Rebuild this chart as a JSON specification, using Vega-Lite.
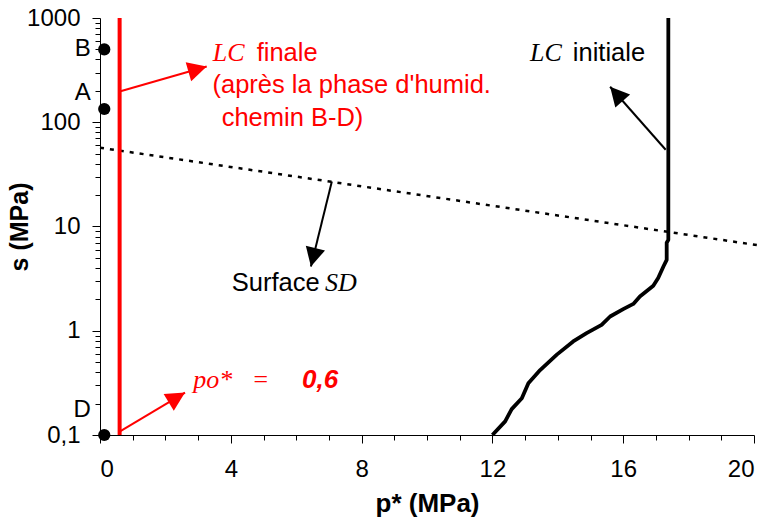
{
  "$schema": "https://vega.github.io/schema/vega-lite/v6.json",
  "width": 654,
  "height": 417,
  "autosize": {"type": "none"},
  "padding": {"left": 100, "top": 18, "right": 15, "bottom": 86},
  "background": "white",
  "config": {
    "view": {"stroke": null},
    "axis": {
      "domainColor": "#000", "tickColor": "#000", "labelColor": "#000", "titleColor": "#000",
      "labelFont": "Liberation Sans", "titleFont": "Liberation Sans", "grid": false,
      "domainWidth": 1, "tickWidth": 1
    }
  },
  "datasets": {
    "sd": [{"x": 0, "y": 57}, {"x": 7.09, "y": 26.8}, {"x": 20.23, "y": 6.53}],
    "lcf": [{"x": 0.6, "y": 0.1}, {"x": 0.6, "y": 1000}],
    "lci": [
      {"k": 0, "x": 17.38, "y": 1000}, {"k": 1, "x": 17.38, "y": 7.45}, {"k": 2, "x": 17.33, "y": 6.98},
      {"k": 3, "x": 17.33, "y": 4.79}, {"k": 4, "x": 17.23, "y": 4.13}, {"k": 5, "x": 17.07, "y": 3.2},
      {"k": 6, "x": 16.92, "y": 2.7}, {"k": 7, "x": 16.51, "y": 2.13}, {"k": 8, "x": 16.31, "y": 1.81},
      {"k": 9, "x": 16.0, "y": 1.61}, {"k": 10, "x": 15.6, "y": 1.37}, {"k": 11, "x": 15.34, "y": 1.14},
      {"k": 12, "x": 14.88, "y": 0.95}, {"k": 13, "x": 14.47, "y": 0.79}, {"k": 14, "x": 13.97, "y": 0.59},
      {"k": 15, "x": 13.46, "y": 0.42}, {"k": 16, "x": 13.1, "y": 0.314}, {"k": 17, "x": 12.9, "y": 0.225},
      {"k": 18, "x": 12.59, "y": 0.177}, {"k": 19, "x": 12.39, "y": 0.135}, {"k": 20, "x": 12.0, "y": 0.1}
    ],
    "pts": [{"n": "B", "x": 0.13, "y": 500}, {"n": "A", "x": 0.13, "y": 134}, {"n": "D", "x": 0.13, "y": 0.1}],
    "ptlab": [{"t": "B", "x": -0.28, "y": 428}, {"t": "A", "x": -0.28, "y": 162}, {"t": "D", "x": -0.28, "y": 0.15}],
    "arrows": [
      {"c": "red", "x": 0.6, "y": 197.6, "x2": 3.263, "y2": 343.2, "ang": 73.9},
      {"c": "red", "x": 0.6, "y": 0.108, "x2": 2.6, "y2": 0.255, "ang": 59.1},
      {"c": "black", "x": 7.09, "y": 27.0, "x2": 6.45, "y2": 4.13, "ang": 193.7},
      {"c": "black", "x": 17.3, "y": 54.5, "x2": 15.6, "y2": 219, "ang": -41.6}
    ],
    "sans": [
      {"c": "red", "t": "finale", "x": 4.79, "y": 389},
      {"c": "red", "t": "(après la phase d'humid.", "x": 3.44, "y": 189.9},
      {"c": "red", "t": "chemin B-D)", "x": 3.72, "y": 92.6},
      {"c": "black", "t": "initiale", "x": 14.46, "y": 389},
      {"c": "black", "t": "Surface", "x": 4.03, "y": 2.43}
    ],
    "serif": [
      {"c": "red", "t": "LC", "x": 3.45, "y": 389},
      {"c": "black", "t": "LC", "x": 13.15, "y": 389},
      {"c": "black", "t": "SD", "x": 6.88, "y": 2.43},
      {"c": "red", "t": "po*\u00a0\u00a0\u00a0=", "x": 2.85, "y": 0.283}
    ],
    "boldit": [{"c": "red", "t": "0,6", "x": 6.18, "y": 0.283}]
  },
  "encoding": {
    "x": {
      "field": "x", "type": "quantitative",
      "scale": {"domain": [0, 20], "nice": false, "zero": false},
      "axis": {
        "values": [0,1,2,3,4,5,6,7,8,9,10,11,12,13,14,15,16,17,18,19,20],
        "labelExpr": "datum.value % 4 == 0 ? format(datum.value, 'd') : ''",
        "tickSize": {"condition": {"test": "datum.value % 4 == 0", "value": 8}, "value": 5},
        "labelFontSize": 24, "labelPadding": 14, "labelOverlap": false,
        "title": "p* (MPa)", "titleFontSize": 26, "titleFontWeight": "bold", "titlePadding": 9
      }
    },
    "y": {
      "field": "y", "type": "quantitative",
      "scale": {"type": "log", "domain": [0.1, 1000], "nice": false},
      "axis": {
        "values": [0.1,0.2,0.3,0.4,0.5,0.6,0.7,0.8,0.9,1,2,3,4,5,6,7,8,9,10,20,30,40,50,60,70,80,90,100,200,300,400,500,600,700,800,900,1000],
        "labelExpr": "abs(log(datum.value)/LN10 - round(log(datum.value)/LN10)) < 1e-6 ? replace(format(datum.value, '~g'), '.', ',') : ''",
        "tickSize": {"condition": {"test": "abs(log(datum.value)/LN10 - round(log(datum.value)/LN10)) < 1e-6", "value": 8}, "value": 5},
        "labelFontSize": 24, "labelPadding": 12, "labelOverlap": false,
        "title": "s (MPa)", "titleFontSize": 25, "titleFontWeight": "bold", "titlePadding": -6
      }
    }
  },
  "layer": [
    {
      "data": {"name": "sd"},
      "mark": {"type": "line", "color": "#000", "strokeWidth": 2.5, "strokeDash": [4, 6], "clip": false}
    },
    {
      "data": {"name": "lcf"},
      "mark": {"type": "line", "color": "#ff0000", "strokeWidth": 4}
    },
    {
      "data": {"name": "lci"},
      "mark": {"type": "line", "color": "#000", "strokeWidth": 3.8, "strokeJoin": "round"},
      "encoding": {"order": {"field": "k", "type": "quantitative"}}
    },
    {
      "data": {"name": "pts"},
      "mark": {"type": "point", "shape": "circle", "filled": true, "color": "#000", "size": 150, "opacity": 1}
    },
    {
      "data": {"name": "ptlab"},
      "mark": {"type": "text", "font": "Liberation Sans", "fontSize": 24, "align": "right", "baseline": "alphabetic", "color": "#000"},
      "encoding": {"text": {"field": "t"}}
    },
    {
      "data": {"name": "arrows"},
      "mark": {"type": "rule", "strokeWidth": 2},
      "encoding": {
        "x2": {"field": "x2"}, "y2": {"field": "y2"},
        "color": {"field": "c", "type": "nominal", "scale": {"domain": ["red", "black"], "range": ["#ff0000", "#000000"]}, "legend": null}
      }
    },
    {
      "data": {"name": "arrows"},
      "mark": {"type": "point", "shape": "M0,0L-0.52,1L0.52,1Z", "filled": true, "size": 1444, "opacity": 1, "strokeWidth": 0},
      "encoding": {
        "x": {"field": "x2", "type": "quantitative"},
        "y": {"field": "y2", "type": "quantitative"},
        "angle": {"field": "ang", "type": "quantitative", "scale": null},
        "color": {"field": "c", "type": "nominal", "legend": null}
      }
    },
    {
      "data": {"name": "sans"},
      "mark": {"type": "text", "font": "Liberation Sans", "fontSize": 25.5, "align": "left", "baseline": "alphabetic"},
      "encoding": {"text": {"field": "t"}, "color": {"field": "c", "type": "nominal", "legend": null}}
    },
    {
      "data": {"name": "serif"},
      "mark": {"type": "text", "font": "Liberation Serif", "fontStyle": "italic", "fontSize": 26, "align": "left", "baseline": "alphabetic"},
      "encoding": {"text": {"field": "t"}, "color": {"field": "c", "type": "nominal", "legend": null}}
    },
    {
      "data": {"name": "boldit"},
      "mark": {"type": "text", "font": "Liberation Sans", "fontStyle": "italic", "fontWeight": "bold", "fontSize": 26, "align": "left", "baseline": "alphabetic"},
      "encoding": {"text": {"field": "t"}, "color": {"field": "c", "type": "nominal", "legend": null}}
    }
  ]
}
